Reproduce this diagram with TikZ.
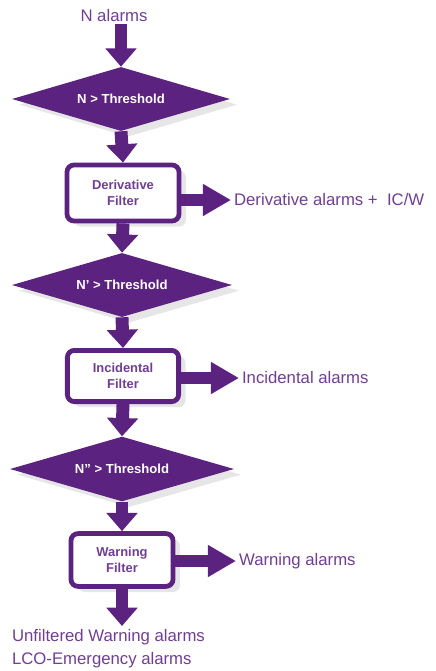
\documentclass[tikz,border=0pt]{standalone}
\usepackage{fontspec}
\setmainfont{Liberation Sans}
\usetikzlibrary{shapes.geometric,arrows.meta,shadows}
\definecolor{purp}{RGB}{92,34,128}
\definecolor{purptext}{RGB}{112,62,146}
\tikzset{
  test/.style={diamond,aspect=3.45,fill=purp,text=white,font=\fontsize{9.3}{11}\selectfont\bfseries,
    inner sep=0pt,drop shadow={opacity=0.2,shadow xshift=5pt,shadow yshift=-4pt}},
  filterbox/.style={draw=purp,line width=3.4pt,fill=white,rounded corners=5pt,
    text=purptext,font=\fontsize{9.2}{11.5}\selectfont\bfseries,align=center,
    drop shadow={opacity=0.2,shadow xshift=5pt,shadow yshift=-4pt}},
  outtext/.style={text=purptext,font=\fontsize{11.9}{16.3}\selectfont,inner sep=2pt},
  downarrow/.style={draw=purp,line width=9.2pt,-{Triangle[length=13pt,width=21.5pt]}},
  sidearrow/.style={draw=purp,line width=9.2pt,-{Triangle[length=20pt,width=21.5pt]}}
}
\begin{document}
\begin{tikzpicture}[x=0.025cm,y=-0.025cm]
\useasboundingbox (0,0) rectangle (435,671);
% inputs and tests
\node[outtext,inner sep=1pt] (nin) at (114,16) {N alarms};
\node[test,minimum width=5.45cm,minimum height=1.6cm] (d1) at (121,99) {N > Threshold};
\node[test,minimum width=5.5cm,minimum height=1.6cm] (d2) at (122,285) {N' > Threshold};
\node[test,minimum width=5.6cm,minimum height=1.62cm] (d3) at (122,469) {N'' > Threshold};
% filters
\node[filterbox,minimum width=2.8cm,minimum height=1.4cm] (f1) at (123,193) {Derivative\\Filter};
\node[filterbox,minimum width=2.78cm,minimum height=1.28cm] (f2) at (123,376) {Incidental\\Filter};
\node[filterbox,minimum width=2.55cm,minimum height=1.32cm] (f3) at (122,560) {Warning\\Filter};
% outputs
\node[outtext,anchor=west] (o1) at (231,200) {Derivative alarms +\ \ IC/W};
\node[outtext,anchor=west] (o2) at (239,378) {Incidental alarms};
\node[outtext,anchor=west] (o3) at (236,561) {Warning alarms};
\node[outtext,anchor=north west,align=left] (o4) at (9,626) {Unfiltered Warning alarms\\LCO-Emergency alarms};
% arrows
\draw[downarrow] (nin.south -| d1.north) -- (d1.north);
\draw[downarrow] (d1.south) -- (f1.north);
\draw[downarrow] (f1.south) -- (d2.north);
\draw[downarrow] (d2.south) -- (f2.north);
\draw[downarrow] (f2.south) -- (d3.north);
\draw[downarrow] (d3.south) -- (f3.north);
\draw[downarrow] (f3.south) -- (f3.south |- o4.north);
\draw[sidearrow] (f1.east |- o1.west) -- (o1.west);
\draw[sidearrow] (f2.east |- o2.west) -- (o2.west);
\draw[sidearrow] (f3.east |- o3.west) -- (o3.west);
\end{tikzpicture}
\end{document}
